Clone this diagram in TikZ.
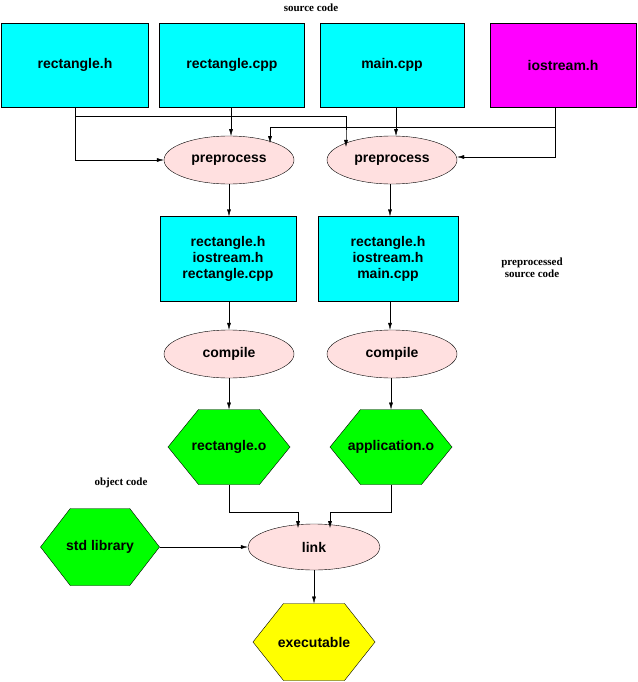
\documentclass[tikz,border=0pt]{standalone}
\usepackage{fontspec}
\setmainfont{Liberation Sans}
\newfontfamily\serifb{Liberation Serif}
\usetikzlibrary{arrows.meta,shapes.geometric}
\definecolor{cy}{RGB}{0,255,255}
\definecolor{mg}{RGB}{255,0,255}
\definecolor{pk}{RGB}{255,224,224}
\definecolor{gr}{RGB}{0,255,0}
\definecolor{yl}{RGB}{255,255,0}
\tikzset{
  box/.style={draw,fill=cy,minimum width=#1,minimum height=84pt,inner sep=0pt,font=\bfseries\fontsize{14}{16}\selectfont,align=center},
  proc/.style={draw,ellipse,fill=pk,minimum width=130pt,minimum height=48pt,inner sep=0pt,font=\bfseries\fontsize{14}{16}\selectfont},
  lbl/.style={font=\serifb\bfseries\fontsize{11}{12}\selectfont,align=center},
  arr/.style={-{Latex[length=7pt,width=4pt]}},
  htxt/.style={font=\bfseries\fontsize{14}{16}\selectfont,inner sep=0pt}
}
\newcommand{\hexa}[7]{%
  \fill[#6,draw=black] (#2-#4/2,#3) -- (#2-#4/4,#3-#5/2) -- (#2+#4/4,#3-#5/2) -- (#2+#4/2,#3) -- (#2+#4/4,#3+#5/2) -- (#2-#4/4,#3+#5/2) -- cycle;
  \node[htxt] (#1) at (#2,#3) {#7};
  \coordinate (#1-n) at (#2,#3-#5/2);
  \coordinate (#1-s) at (#2,#3+#5/2);
  \coordinate (#1-e) at (#2+#4/2,#3);}
\begin{document}
\begin{tikzpicture}[x=1pt,y=-1pt]
\useasboundingbox (0,0) rectangle (637,682);
\node[lbl] (l1) at (311,8) {source code};
\node[lbl] (l2) at (532,268) {preprocessed\\source code};
\node[lbl] (l3) at (121,483) {object code};
\node[box=147pt] (rh) at (75,65) {rectangle.h};
\node[box=145pt] (rc) at (232,65) {rectangle.cpp};
\node[box=144pt] (mc) at (392,65) {main.cpp};
\node[box=146pt,fill=mg] (io) at (563,65) {iostream.h};
\node[proc] (p1) at (229,160) {preprocess};
\node[proc] (p2) at (392,160) {preprocess};
\node[box=136pt,minimum height=85pt] (b1) at (228,259) {rectangle.h\\iostream.h\\rectangle.cpp};
\node[box=140pt,minimum height=85pt] (b2) at (388,259) {rectangle.h\\iostream.h\\main.cpp};
\node[proc] (c1) at (229,354) {compile};
\node[proc] (c2) at (392,354) {compile};
\hexa{o1}{229}{447}{122}{75}{gr}{rectangle.o}
\hexa{o2}{391}{447}{122}{75}{gr}{application.o}
\hexa{sl}{100}{547}{119}{77}{gr}{std library}
\node[proc,minimum width=132pt,minimum height=46pt] (lk) at (314,547) {link};
\hexa{ex}{314}{642}{122}{77}{yl}{executable}
% connectors
\draw[arr] (rh.south -| 75,0) |- (p1.west);
\draw[arr] (75,116) -| (p2.north west -| 346,0) -- ++(0,4);
\draw[arr] (rc.south -| 231,0) -- (231,136);
\draw[arr] (mc.south -| 396,0) -- (396,136);
\draw[arr] (io.south -| 555,0) -- (555,127) -| (270,143);
\draw[arr] (555,127) |- (p2.east |- 0,157);
\draw[arr] (p1.south -| 229,0) -- (b1.north -| 229,0);
\draw[arr] (p2.south -| 390,0) -- (b2.north -| 390,0);
\draw[arr] (b1.south -| 229,0) -- (c1.north -| 229,0);
\draw[arr] (b2.south -| 390,0) -- (c2.north -| 390,0);
\draw[arr] (c1.south -| 229,0) -- (o1-n);
\draw[arr] (c2.south -| 391,0) -- (o2-n);
\draw[arr] (o1-s) -- (229,512) -| (298,528);
\draw[arr] (o2-s) -- (391,512) -| (330,528);
\draw[arr] (sl-e) -- (lk.west);
\draw[arr] (lk.south) -- (ex-n);
\end{tikzpicture}
\end{document}
